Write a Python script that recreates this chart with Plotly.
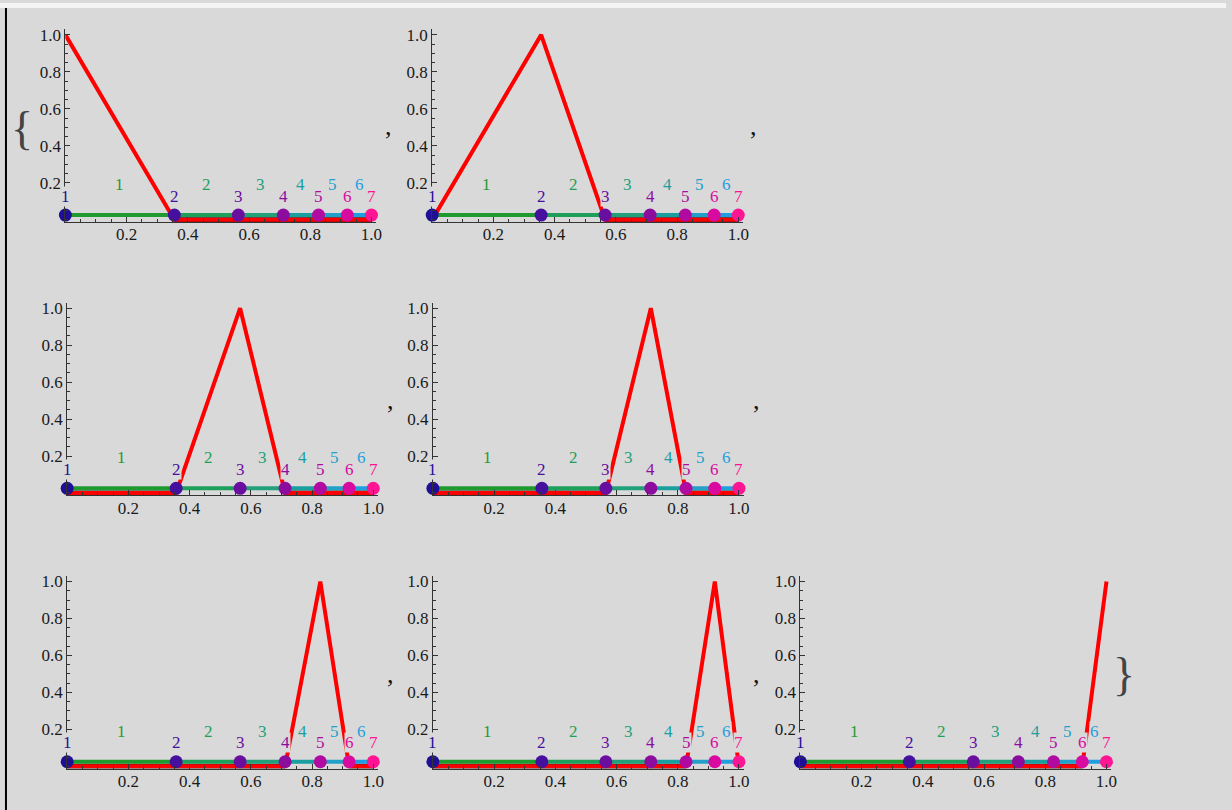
import plotly.graph_objects as go

# ---------------- data ----------------
node_x = [0.0, 0.356, 0.565, 0.712, 0.827, 0.921, 1.0]
node_labels = ["1", "2", "3", "4", "5", "6", "7"]
element_labels = ["1", "2", "3", "4", "5", "6"]
node_colors = ["#1f0f96", "#45109e", "#6a0ea0", "#8c0c9e", "#b00aa0", "#d80aa0", "#ff1493"]
element_colors = ["#1f9a2e", "#1fa05a", "#22a07a", "#1a9f9f", "#22a0c8", "#1f9fe0"]
tick_vals = [0.2, 0.4, 0.6, 0.8, 1.0]
tick_text = ["0.2", "0.4", "0.6", "0.8", "1.0"]
node_level = 0.025        # height at which the mesh is drawn
node_label_y = 0.128
element_label_y = 0.19

# ---------------- layout geometry (pixels) ----------------
W, H = 1232, 810
BG = "#d9d9d9"
XS, YS = 307.6, 185.5
XR = [0.0, 1.016]
YR = [-0.012, 1.03]
panel_x0 = [65.7, 434.3, 67.5, 435.0, 67.5, 435.0, 804.3]
panel_y0 = [217.5, 217.5, 491.8, 491.8, 766.2, 766.2, 766.2]
comma_pos = [(390, 124), (757, 124), (392, 399), (760, 399), (392, 674), (760, 674)]
FONT = "Liberation Serif"
FS = 17

fig = go.Figure()
annotations = []
n = len(node_x)

for k in range(n):
    sfx = "" if k == 0 else str(k + 1)
    xa, ya = "x" + sfx, "y" + sfx
    # basis function k: value 1 at node k, 0 at all other nodes
    vals = [1.0 if j == k else 0.0 for j in range(n)]

    # dark edge under the zero parts of the basis function
    ex, ey = [], []
    for j in range(n - 1):
        if vals[j] == 0 and vals[j + 1] == 0:
            ex += [node_x[j], node_x[j + 1], None]
            ey += [0, 0, None]
    fig.add_trace(go.Scatter(x=ex, y=ey, mode="lines", line=dict(color="#222222", width=5),
                             xaxis=xa, yaxis=ya, hoverinfo="skip", showlegend=False))
    # red basis function
    fig.add_trace(go.Scatter(x=node_x, y=vals, mode="lines", line=dict(color="#ff0000", width=4),
                             xaxis=xa, yaxis=ya, hoverinfo="skip", showlegend=False))
    # mesh elements
    for e in range(n - 1):
        fig.add_trace(go.Scatter(x=[node_x[e], node_x[e + 1]], y=[node_level, node_level], mode="lines",
                                 line=dict(color=element_colors[e], width=4),
                                 xaxis=xa, yaxis=ya, hoverinfo="skip", showlegend=False))
    # nodes
    fig.add_trace(go.Scatter(x=node_x, y=[node_level] * n, mode="markers",
                             marker=dict(color=node_colors, size=13, line=dict(width=0)),
                             cliponaxis=False, xaxis=xa, yaxis=ya, hoverinfo="skip", showlegend=False))

    # labels
    for e in range(n - 1):
        annotations.append(dict(x=(node_x[e] + node_x[e + 1]) / 2, y=element_label_y, xref=xa, yref=ya,
                                text=element_labels[e], showarrow=False, bgcolor=BG, borderpad=0,
                                font=dict(family=FONT, size=FS, color=element_colors[e]),
                                xanchor="center", yanchor="middle"))
    for j in range(n):
        annotations.append(dict(x=node_x[j], y=node_label_y, xref=xa, yref=ya,
                                text=node_labels[j], showarrow=False, bgcolor=BG, borderpad=0,
                                font=dict(family=FONT, size=FS, color=node_colors[j]),
                                xanchor="center", yanchor="middle"))

    x0, y0 = panel_x0[k], panel_y0[k]
    xdom = [x0 / W, (x0 + (XR[1] - XR[0]) * XS) / W]
    ydom = [1 - (y0 - YR[0] * YS) / H, 1 - (y0 - YR[1] * YS) / H]
    axis_common = dict(showline=True, linecolor="#333333", linewidth=1, showgrid=False, zeroline=False,
                       tickmode="array", tickvals=tick_vals, ticktext=tick_text,
                       ticks="inside", ticklen=5, tickcolor="#333333", tickwidth=1,
                       tickfont=dict(family=FONT, size=FS, color="#1a1a1a"),
                       minor=dict(tickmode="linear", tick0=0, dtick=0.05, ticks="inside", ticklen=3,
                                  tickcolor="#333333", tickwidth=1, showgrid=False),
                       fixedrange=True)
    fig.update_layout(**{
        "xaxis" + sfx: dict(domain=xdom, range=XR, anchor=ya, ticklabelstandoff=-3, **axis_common),
        "yaxis" + sfx: dict(domain=ydom, range=YR, anchor=xa, **axis_common),
    })

# commas between list elements
for (cx, cy) in comma_pos:
    annotations.append(dict(x=cx / W, y=1 - cy / H, xref="paper", yref="paper", text=",",
                            showarrow=False, font=dict(family=FONT, size=26, color="#111111"),
                            xanchor="center", yanchor="middle"))
# list braces
annotations.append(dict(x=22 / W, y=1 - 126 / H, xref="paper", yref="paper", text="{",
                        showarrow=False, font=dict(family=FONT, size=46, color="#444444"),
                        xanchor="center", yanchor="middle"))
annotations.append(dict(x=1130 / W, y=1 - 674 / H, xref="paper", yref="paper", text="}",
                        showarrow=False, font=dict(family=FONT, size=46, color="#444444"),
                        xanchor="center", yanchor="middle"))

shapes = [
    dict(type="rect", xref="paper", yref="paper", x0=0, x1=1, y0=1 - 5 / H, y1=1,
         fillcolor="#f4f4f4", line=dict(width=0), layer="below"),
    dict(type="line", xref="paper", yref="paper", x0=6 / W, x1=6 / W, y0=0, y1=1 - 5 / H,
         line=dict(color="#000000", width=2)),
]

fig.update_layout(width=W, height=H, margin=dict(l=0, r=0, t=0, b=0),
                  paper_bgcolor=BG, plot_bgcolor=BG, showlegend=False,
                  annotations=annotations, shapes=shapes)

fig.write_html("out.html", config={"displayModeBar": False},
               post_script="document.body.style.margin='0';document.body.style.overflow='hidden';")
